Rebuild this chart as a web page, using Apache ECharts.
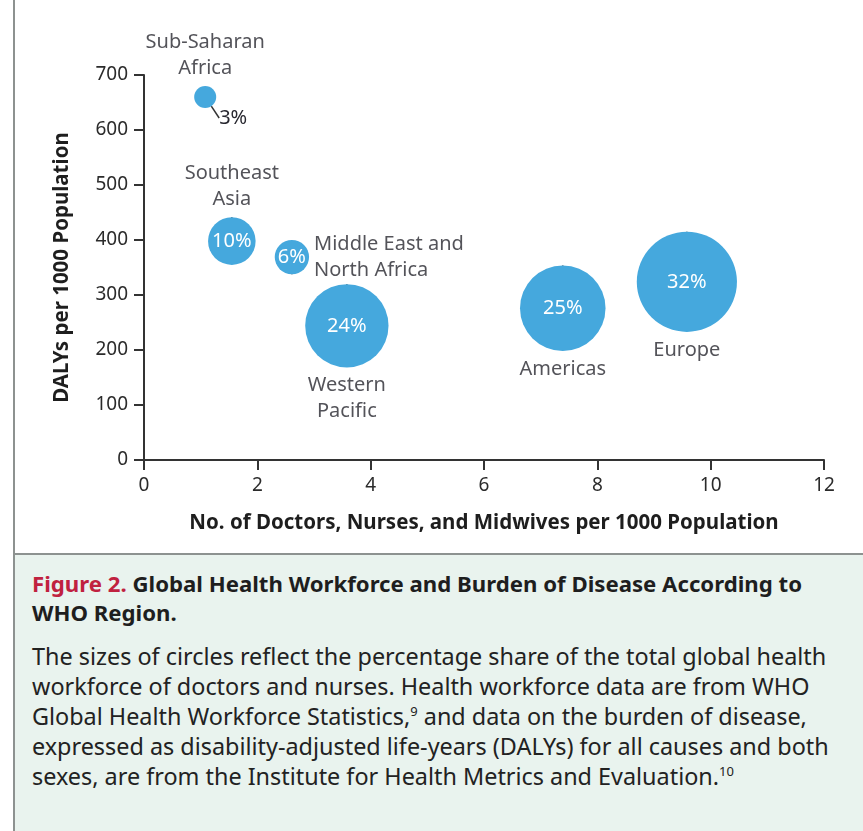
<!DOCTYPE html>
<html>
<head>
<meta charset="utf-8">
<script src="https://cdn.jsdelivr.net/npm/echarts@6/dist/echarts.min.js"></script>
<style>
  html,body{margin:0;padding:0;background:#fff;}
  #wrap{position:relative;width:863px;height:831px;overflow:hidden;font-family:"Noto Sans",sans-serif;}
  #chart{position:absolute;left:0;top:0;width:863px;height:831px;}
  #leftbar{position:absolute;left:13px;top:0;width:2px;height:831px;background:#8d9290;}
  #cap{position:absolute;left:15px;top:553px;width:848px;height:278px;background:#e9f3ee;border-top:2px solid #8d9290;box-sizing:border-box;}
  #cap .title{position:absolute;left:17px;top:14px;font-size:22.2px;line-height:29px;font-weight:bold;color:#1e1e1e;white-space:nowrap;}
  #cap .fig{color:#c0213f;}
  #cap .body{position:absolute;left:17px;top:86px;font-size:23.4px;line-height:30px;color:#222;white-space:nowrap;}
  #cap sup{font-size:13px;line-height:0;vertical-align:9px;}
</style>
</head>
<body>
<div id="wrap">
  <div id="chart"></div>
  <div id="leftbar"></div>
  <div id="cap">
    <div class="title"><span class="fig">Figure 2.</span> Global Health Workforce and Burden of Disease According to<br>WHO Region.</div>
    <div class="body">The sizes of circles reflect the percentage share of the total global health<br>workforce of doctors and nurses. Health workforce data are from WHO<br>Global Health Workforce Statistics,<sup>9</sup> and data on the burden of disease,<br>expressed as disability-adjusted life-years (DALYs) for all causes and both<br>sexes, are from the Institute for Health Metrics and Evaluation.<sup>10</sup></div>
  </div>
</div>
<script>
// data
var regions=['Sub-Saharan\nAfrica','Southeast\nAsia','Middle East and\nNorth Africa','Western\nPacific','Americas','Europe'];
var workforce=[1.08,1.55,2.61,3.58,7.39,9.58];
var dalys=[660,398,369,244,276,324];
var share=[3,10,6,24,25,32];
var xTicks=[0,2,4,6,8,10,12];
var yTicks=[0,100,200,300,400,500,600,700];

// where each region name sits
var namePos=['top','top','right','bottom','bottom','bottom'];

var FONT='"Noto Sans",sans-serif';
var BLUE='#45a8dd';
var INK='#282830';

function bubble(val){
    return 10.9*Math.pow(val[2],0.64);
}

var pts=[],names=[];
for(var i=0;i<regions.length;i++){
    pts.push(i===0?{value:[workforce[i],dalys[i],share[i]],label:{color:INK}}:[workforce[i],dalys[i],share[i]]);
    names.push({value:[workforce[i],dalys[i],share[i]],name:regions[i],
        label:{position:namePos[i],align:namePos[i]=='right'?'left':'center'}});
}

var chart=echarts.init(document.getElementById('chart'));
chart.setOption({
    animation:false,
    textStyle:{fontFamily:FONT},
    grid:{left:144,right:39,top:75,bottom:371},
    xAxis:{
        type:'value',min:xTicks[0],max:xTicks[xTicks.length-1],interval:2,
        name:'No. of Doctors, Nurses, and Midwives per 1000 Population',
        nameLocation:'middle',nameGap:53,
        nameTextStyle:{fontFamily:FONT,fontSize:20.5,fontWeight:'bold',color:'#1e1e1e'},
        axisLine:{lineStyle:{color:'#333',width:2}},
        axisTick:{show:true,length:10,lineStyle:{color:'#333',width:2}},
        axisLabel:{margin:16,fontFamily:FONT,fontSize:19,color:'#2b2b2b'},
        splitLine:{show:false}
    },
    yAxis:{
        type:'value',min:yTicks[0],max:yTicks[yTicks.length-1],interval:100,
        name:'DALYs per 1000 Population',
        nameLocation:'middle',nameGap:71,
        nameTextStyle:{fontFamily:FONT,fontSize:20.5,fontWeight:'bold',color:'#1e1e1e'},
        axisLine:{show:true,lineStyle:{color:'#333',width:2}},
        axisTick:{show:true,length:10,lineStyle:{color:'#333',width:2}},
        axisLabel:{margin:16,fontFamily:FONT,fontSize:19,color:'#2b2b2b'},
        splitLine:{show:false}
    },
    series:[{
        type:'scatter',
        data:pts,
        symbolSize:bubble,
        itemStyle:{color:BLUE,opacity:1},
        label:{
            show:true,position:'inside',
            formatter:function(p){return p.value[2]+'%';},
            fontFamily:FONT,fontSize:20,color:'#fff'
        },
        labelLayout:function(p){
            if(p.dataIndex===0) return {dx:28,dy:21};
        },
        labelLine:{show:true,lineStyle:{color:'#333',width:1.5}},
        emphasis:{disabled:true}
    },{
        type:'scatter',
        data:names,
        symbolSize:bubble,
        itemStyle:{color:'rgba(0,0,0,0)'},
        label:{
            show:true,distance:5,
            formatter:'{b}',
            fontFamily:FONT,fontSize:20,lineHeight:26,color:INK
        },
        emphasis:{disabled:true},
        silent:true
    }]
});
</script>
</body>
</html>
